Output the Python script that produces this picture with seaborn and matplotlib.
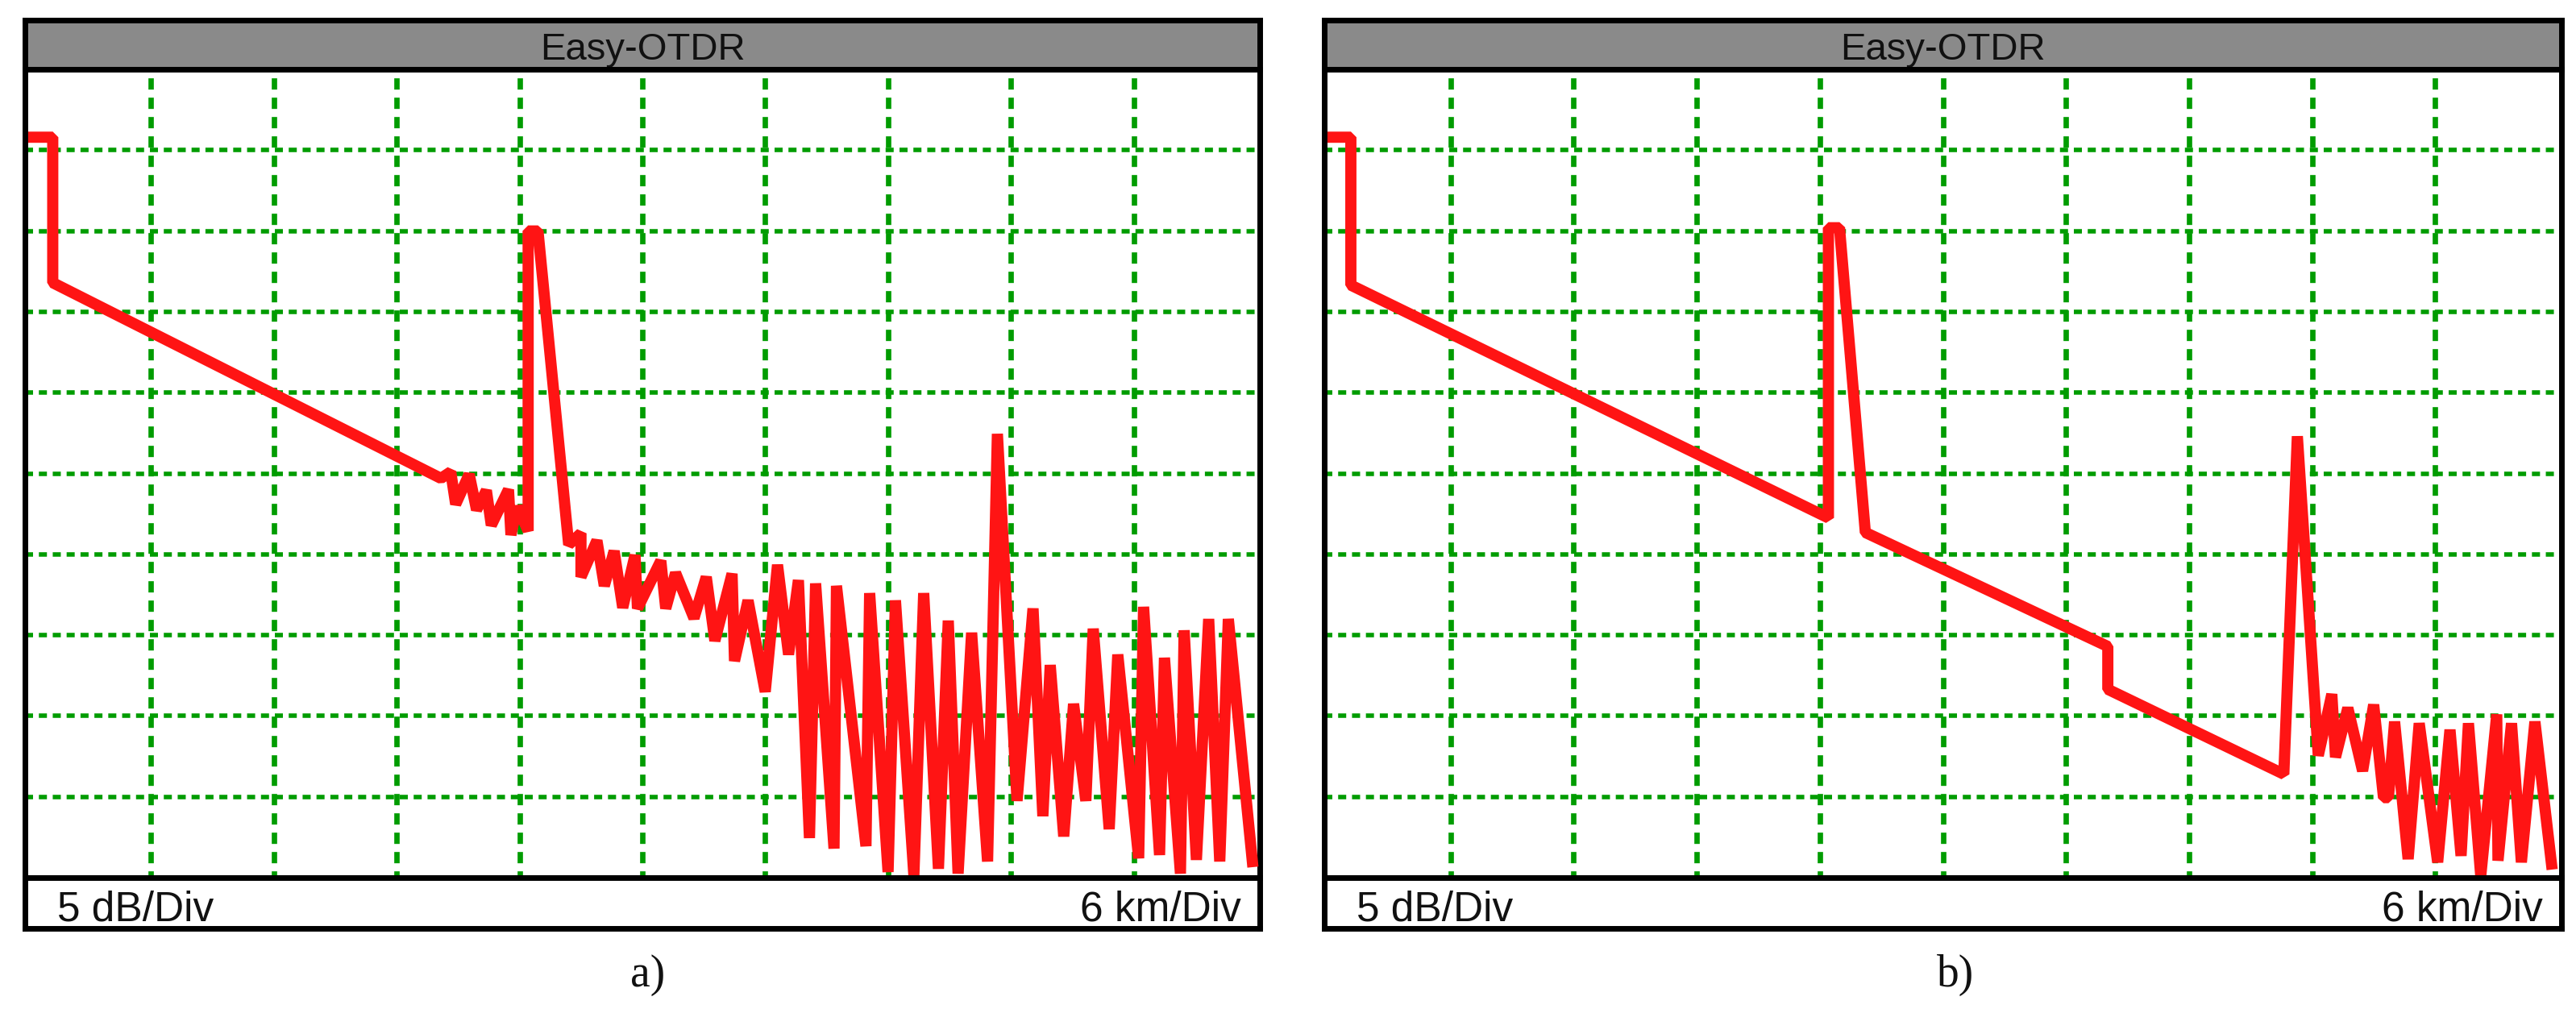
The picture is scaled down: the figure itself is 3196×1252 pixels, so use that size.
import matplotlib
matplotlib.use("Agg")
import matplotlib.pyplot as plt
from matplotlib import font_manager
import pandas as pd
import seaborn as sns

# ---------------- data (x in km divisions, y in dB divisions) ----------------
trace_a_km = [0.00, 0.20, 0.20, 3.36, 3.44, 3.48, 3.59, 3.65, 3.73, 3.77, 3.91, 3.93,
              3.98, 4.07, 4.07, 4.15, 4.40, 4.50, 4.50, 4.63, 4.69, 4.77, 4.84, 4.94,
              4.96, 5.15, 5.19, 5.27, 5.42, 5.52, 5.59, 5.73, 5.75, 5.86, 6.00, 6.10,
              6.19, 6.27, 6.36, 6.41, 6.56, 6.58, 6.82, 6.85, 7.00, 7.06, 7.21, 7.29,
              7.41, 7.49, 7.57, 7.68, 7.81, 7.89, 8.05, 8.18, 8.26, 8.32, 8.43, 8.51,
              8.61, 8.67, 8.80, 8.87, 9.04, 9.08, 9.21, 9.25, 9.38, 9.41, 9.51, 9.61,
              9.70, 9.77, 9.97]
trace_a_db = [9.16, 9.16, 7.36, 4.94, 5.02, 4.62, 4.99, 4.55, 4.79, 4.36, 4.80, 4.24,
              4.59, 4.29, 8.00, 8.00, 4.12, 4.26, 3.72, 4.17, 3.61, 4.04, 3.34, 3.99,
              3.33, 3.92, 3.33, 3.77, 3.21, 3.72, 2.93, 3.76, 2.68, 3.43, 2.30, 3.87,
              2.76, 3.68, 0.49, 3.64, 0.36, 3.61, 0.39, 3.52, 0.07, 3.43, 0.03, 3.52,
              0.11, 3.18, 0.05, 3.03, 0.20, 5.49, 0.95, 3.33, 0.76, 2.63, 0.51, 2.15,
              0.95, 3.08, 0.60, 2.76, 0.24, 3.35, 0.28, 2.72, 0.05, 3.06, 0.22, 3.20,
              0.20, 3.20, 0.13]

trace_b_km = [0.00, 0.19, 0.19, 4.07, 4.07, 4.16, 4.37, 6.34, 6.34, 7.77, 7.88, 8.05,
              8.16, 8.19, 8.29, 8.41, 8.50, 8.58, 8.62, 8.67, 8.78, 8.87, 9.02, 9.12,
              9.21, 9.27, 9.37, 9.50, 9.51, 9.62, 9.70, 9.81, 9.95]
trace_b_db = [9.16, 9.16, 7.33, 4.45, 8.04, 8.04, 4.27, 2.86, 2.33, 1.28, 5.46, 1.51,
              2.27, 1.49, 2.10, 1.32, 2.14, 0.99, 0.99, 1.93, 0.23, 1.91, 0.19, 1.83,
              0.27, 1.91, 0.02, 2.02, 0.21, 1.91, 0.19, 1.93, 0.10]

title_text = "Easy-OTDR"
left_label = "5 dB/Div"
right_label = "6 km/Div"
captions = ["a)", "b)"]
grid_divs = list(range(1, 10))

# ---------------- style ----------------
sns.set_theme(style="white")
plt.rcParams['font.family'] = ['Liberation Sans', 'DejaVu Sans']

try:
    font_manager.findfont(font_manager.FontProperties(family='Liberation Sans Narrow'),
                          fallback_to_default=False)
    TITLE_FONT, TITLE_SIZE = ['Liberation Sans Narrow', 'DejaVu Sans'], 40
except Exception:
    TITLE_FONT, TITLE_SIZE = ['Liberation Sans', 'DejaVu Sans'], 34

W, H = 3196, 1252
fig = plt.figure(figsize=(W / 100, H / 100), dpi=100)

RED = '#ff1414'
GREEN = '#009c00'
GRAY = '#8a8a8a'
BORDER_LW = 5.0  # pt (~7 px)

TOP, SEP1, SEP2, BOT = 24.5, 86.0, 1089.0, 1152.0


def rect(x0, y0, x1, y1):
    return [x0 / W, 1 - y1 / H, (x1 - x0) / W, (y1 - y0) / H]


def frame(ax, face):
    ax.set_facecolor(face)
    ax.set_xticks([])
    ax.set_yticks([])
    for s in ax.spines.values():
        s.set_visible(True)
        s.set_color('black')
        s.set_linewidth(BORDER_LW)
        s.set_zorder(5)


panels = [
    dict(x0=31, x1=1563, km=trace_a_km, db=trace_a_db, cap=captions[0], capx=804),
    dict(x0=1643, x1=3178, km=trace_b_km, db=trace_b_db, cap=captions[1], capx=2426),
]

for p in panels:
    x0, x1 = p['x0'], p['x1']
    # title bar
    tax = fig.add_axes(rect(x0, TOP, x1, SEP1))
    frame(tax, GRAY)
    tax.text(0.5, 0.19, title_text, transform=tax.transAxes, ha='center',
             va='baseline', fontsize=TITLE_SIZE, family=TITLE_FONT, color='#111111')

    # main trace area
    ax = fig.add_axes(rect(x0, SEP1, x1, SEP2))
    frame(ax, 'white')
    ax.set_xlim(-0.026, 10.026)
    ax.set_ylim(0, 10)
    for k in grid_divs:
        ax.axhline(k, color=GREEN, lw=4.0, linestyle=(0, (1.8, 1.3)), zorder=1)
        ax.plot([k, k], [10, 0], color=GREEN, lw=4.8,
                linestyle=(2.0, (2.1, 1.5)), zorder=1)
    df = pd.DataFrame({'km': p['km'], 'db': p['db']})
    sns.lineplot(data=df, x='km', y='db', sort=False, estimator=None,
                 color=RED, linewidth=10, ax=ax, legend=False)
    ln = ax.lines[-1]
    ln.set_clip_on(False)
    ln.set_zorder(6)
    ln.set_solid_joinstyle('bevel')
    ln.set_solid_capstyle('butt')
    ax.set_xlabel('')
    ax.set_ylabel('')
    ax.set_xticks([])
    ax.set_yticks([])

    # bottom band
    bax = fig.add_axes(rect(x0, SEP2, x1, BOT))
    frame(bax, 'white')
    bax.text(0.026, 0.143, left_label, transform=bax.transAxes, ha='left',
             va='baseline', fontsize=37, color='#111111')
    bax.text(0.985, 0.143, right_label, transform=bax.transAxes, ha='right',
             va='baseline', fontsize=37, color='#111111')

    fig.text(p['capx'] / W, 1 - 1224 / H, p['cap'], ha='center', va='baseline',
             fontsize=40, family=['Liberation Serif', 'DejaVu Serif'], color='#111111')

fig.savefig('out.png', dpi=100, facecolor='white')
